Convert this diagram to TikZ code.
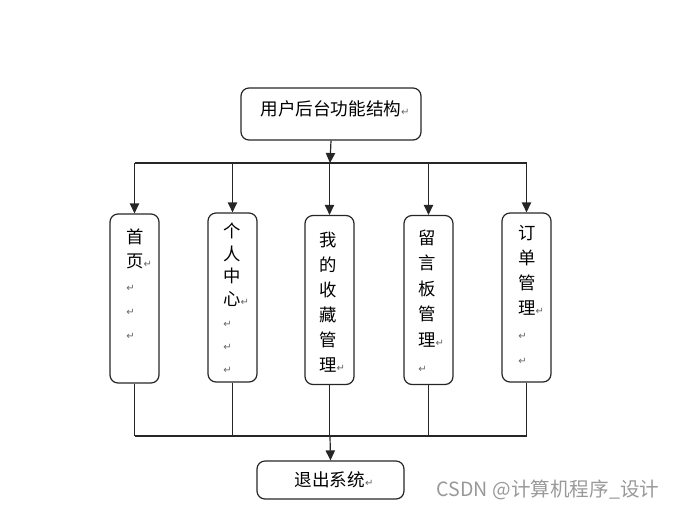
\documentclass[tikz,border=0pt]{standalone}
\usepackage{fontspec}
\newfontfamily\cjk{Noto Sans CJK SC}
\newfontfamily\retfont{DejaVu Sans}
\usetikzlibrary{arrows.meta}
\newcommand\rt{{\retfont\fontsize{7.5}{7.5}\selectfont\color{black!60}↵}}
\begin{document}
\begin{tikzpicture}[x=0.75pt,y=-0.75pt,
  mbox/.style={draw=black!85,line width=0.9pt,rounded corners=6pt,inner sep=0pt},
  col/.style={mbox,minimum width=36.75pt,minimum height=126.75pt},
  ln/.style={draw=black!85,line width=0.9pt},
  arr/.style={ln,-{Triangle[length=7.5pt,width=7pt]}},
  txt/.style={inner sep=0pt,anchor=base west,align=left},
  lbl/.style={inner sep=0pt,font={\cjk\fontsize{13.2}{15}\selectfont}}]
\useasboundingbox (0,0) rectangle (674,508);
% boxes
\node[mbox,minimum width=135pt,minimum height=39pt] (top) at (331,114) {};
\node[lbl] (toptxt) at (335,109) {用户后台功能结构\rt};
\node[col] (b1) at (134.5,298.5) {};
\node[col] (b2) at (232.5,297.5) {};
\node[col] (b3) at (329.5,300) {};
\node[col] (b4) at (428.5,300) {};
\node[col] (b5) at (526.5,297.5) {};
\node[mbox,minimum width=110.25pt,minimum height=28.5pt] (ex) at (330.5,480) {};
\node[lbl] (extxt) at (334,480) {退出系统\rt};
% column texts (anchored at the baseline of their last line)
\node[txt,font={\cjk\fontsize{13}{18}\selectfont}] (t1) at (126,339) {首\\页\rlap{\rt}\\\rt\\\rt\\\rt};
\node[txt,font={\cjk\fontsize{13}{16.9}\selectfont}] (t2) at (223,373) {个\\人\\中\\心\rlap{\rt}\\\rt\\\rt\\\rt};
\node[txt,font={\cjk\fontsize{13}{18.75}\selectfont}] (t3) at (319,371) {我\\的\\收\\藏\\管\\理\rlap{\rt}};
\node[txt,font={\cjk\fontsize{13}{19.2}\selectfont}] (t4) at (418,372) {留\\言\\板\\管\\理\rlap{\rt}\\\rt};
\node[txt,font={\cjk\fontsize{13}{18.75}\selectfont}] (t5) at (518,364) {订\\单\\管\\理\rlap{\rt}\\\rt\\\rt};
% top bus
\coordinate (jt) at (330,163);
\coordinate (h1) at (b1.north |- jt);
\coordinate (h2) at (b2.north |- jt);
\coordinate (h3) at (b3.north |- jt);
\coordinate (h4) at (b4.north |- jt);
\coordinate (h5) at (b5.north |- jt);
\draw[arr] (top.south) -- (jt);
\draw[ln] (h1) -- (h5);
\foreach \i in {1,...,5} \draw[arr] (h\i) -- (b\i.north);
% bottom bus
\coordinate (jb) at (330,436);
\coordinate (g1) at (b1.south |- jb);
\coordinate (g2) at (b2.south |- jb);
\coordinate (g3) at (b3.south |- jb);
\coordinate (g4) at (b4.south |- jb);
\coordinate (g5) at (b5.south |- jb);
\foreach \i in {1,...,5} \draw[ln] (b\i.south) -- (g\i);
\draw[ln] (g1) -- (g5);
\draw[arr] (jb) -- (ex.north);
% watermark
\node[inner sep=0pt,font={\cjk\fontsize{14.7}{16}\selectfont},text=black!40] (wm) at (548,490) {CSDN @计算机程序\_设计};
\end{tikzpicture}
\end{document}
